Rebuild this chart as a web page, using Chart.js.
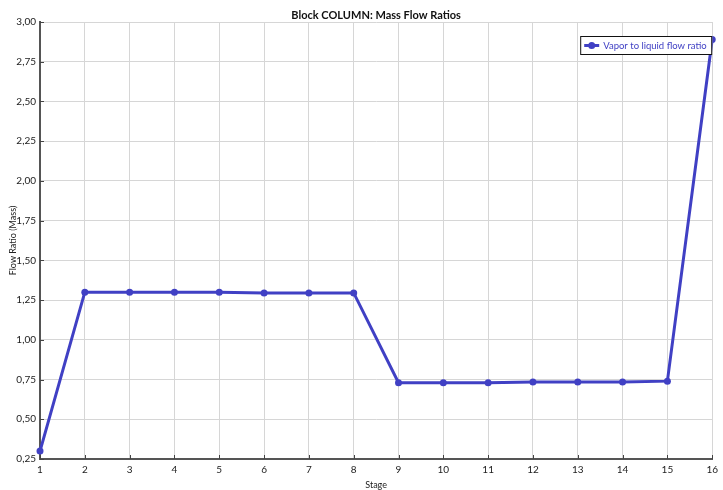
<!DOCTYPE html>
<html>
<head>
<meta charset="utf-8">
<script src="https://cdn.jsdelivr.net/npm/chart.js@4/dist/chart.umd.min.js"></script>
<style>
  html, body { margin: 0; padding: 0; background: #fff; }
  #wrap { width: 723px; height: 490px; }
</style>
</head>
<body>
<div id="wrap"><canvas id="c" width="723" height="490"></canvas></div>
<script>
// Stage numbers along the column
const stages = ['1','2','3','4','5','6','7','8','9','10','11','12','13','14','15','16'];
// Vapor to liquid mass flow ratio per stage
const vaporLiquidRatio = [0.30, 1.30, 1.30, 1.30, 1.30, 1.295, 1.295, 1.295, 0.73, 0.73, 0.73, 0.735, 0.735, 0.735, 0.74, 2.89];
const seriesName = 'Vapor to liquid flow ratio';
const chartTitle = 'Block COLUMN: Mass Flow Ratios';

const LINE = '#4040c4';
const FONT = 'Lato, "Liberation Sans", sans-serif';

// Title drawn centred over the plot
const titlePlugin = {
  id: 'titleText',
  afterDraw(chart) {
    const { ctx, chartArea } = chart;
    ctx.save();
    ctx.font = 'bold 11px ' + FONT;
    ctx.fillStyle = '#111';
    ctx.textAlign = 'center';
    ctx.textBaseline = 'middle';
    ctx.fillText(chartTitle, (chartArea.left + chartArea.right) / 2, 15);
    ctx.restore();
  }
};

// Short tick marks pointing into the plot
const innerTicks = {
  id: 'innerTicks',
  afterDatasetsDraw(chart) {
    const { ctx, chartArea, scales } = chart;
    ctx.save();
    ctx.strokeStyle = '#444';
    ctx.lineWidth = 1;
    scales.y.ticks.forEach((t, i) => {
      const y = Math.round(scales.y.getPixelForTick(i)) + 0.5;
      ctx.beginPath();
      ctx.moveTo(chartArea.left, y);
      ctx.lineTo(chartArea.left + 4, y);
      ctx.stroke();
    });
    scales.x.ticks.forEach((t, i) => {
      const x = Math.round(scales.x.getPixelForTick(i)) + 0.5;
      ctx.beginPath();
      ctx.moveTo(x, chartArea.bottom);
      ctx.lineTo(x, chartArea.bottom - 4);
      ctx.stroke();
    });
    ctx.restore();
  }
};

// Boxed legend in the upper right corner of the plot
const boxLegend = {
  id: 'boxLegend',
  afterDraw(chart) {
    const { ctx, chartArea } = chart;
    const right = chartArea.right;
    const top = chartArea.top + 14;
    const w = 132, h = 19;
    const left = right - w;
    ctx.save();
    ctx.fillStyle = '#fff';
    ctx.fillRect(left, top, w, h);
    ctx.strokeStyle = '#111';
    ctx.lineWidth = 1;
    ctx.strokeRect(left + 0.5, top + 0.5, w - 1, h - 1);
    const cy = top + h / 2;
    ctx.strokeStyle = LINE;
    ctx.lineWidth = 3;
    ctx.beginPath();
    ctx.moveTo(left + 4, cy);
    ctx.lineTo(left + 19, cy);
    ctx.stroke();
    ctx.fillStyle = LINE;
    ctx.beginPath();
    ctx.arc(left + 11.5, cy, 3.5, 0, Math.PI * 2);
    ctx.fill();
    ctx.font = '9.5px ' + FONT;
    ctx.textAlign = 'left';
    ctx.textBaseline = 'middle';
    ctx.fillText(seriesName, left + 23, cy + 0.5);
    ctx.restore();
  }
};

new Chart(document.getElementById('c'), {
  type: 'line',
  data: {
    labels: stages,
    datasets: [{
      label: seriesName,
      data: vaporLiquidRatio,
      borderColor: LINE,
      backgroundColor: LINE,
      borderWidth: 3,
      pointRadius: 3.5,
      pointHoverRadius: 3.5,
      pointBackgroundColor: LINE,
      pointBorderWidth: 0,
      tension: 0,
      clip: false
    }]
  },
  options: {
    responsive: false,
    animation: false,
    devicePixelRatio: 1,
    layout: { padding: { top: 22, right: 10, left: 0, bottom: 0 } },
    plugins: {
      legend: { display: false },
      title: { display: false },
      tooltip: { enabled: false }
    },
    scales: {
      x: {
        offset: false,
        grid: { color: '#d6d6d6', lineWidth: 1, drawTicks: false },
        border: { color: '#555', width: 2 },
        ticks: {
          padding: 5,
          color: '#222',
          font: { family: FONT, size: 10 },
          maxRotation: 0,
          autoSkip: false
        },
        title: {
          display: true,
          text: 'Stage',
          color: '#222',
          font: { family: FONT, size: 9 },
          padding: { top: 1, bottom: 0 }
        },
        afterFit(s) { s.height = 31; }
      },
      y: {
        min: 0.25,
        max: 3,
        grid: { color: '#d6d6d6', lineWidth: 1, drawTicks: false },
        border: { color: '#555', width: 2 },
        ticks: {
          stepSize: 0.25,
          padding: 4,
          color: '#222',
          font: { family: FONT, size: 10 },
          callback: v => v.toFixed(2).replace('.', ',')
        },
        title: {
          display: true,
          text: 'Flow Ratio (Mass)',
          color: '#222',
          font: { family: FONT, size: 9 },
          padding: { top: 8, bottom: 2 }
        },
        afterFit(s) { s.width = 40; }
      }
    }
  },
  plugins: [titlePlugin, innerTicks, boxLegend]
});
</script>
</body>
</html>
